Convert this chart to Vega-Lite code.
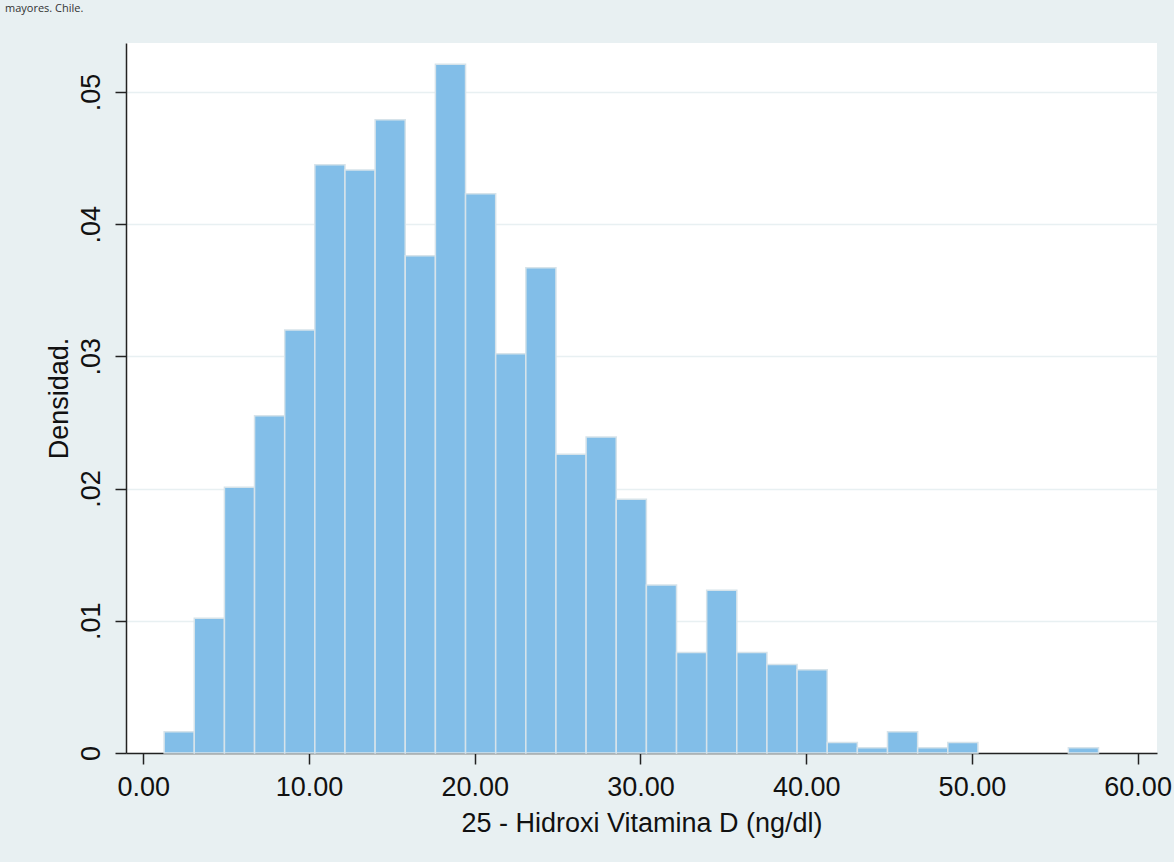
{
  "$schema": "https://vega.github.io/schema/vega-lite/v6.json",
  "width": 1031,
  "height": 710,
  "autosize": {"type": "none"},
  "padding": {"left": 126, "top": 43, "right": 17, "bottom": 109},
  "background": "#E8F0F2",
  "title": {
    "text": "mayores. Chile.",
    "anchor": "start",
    "frame": "group",
    "orient": "top",
    "offset": 20,
    "dx": -121,
    "baseline": "alphabetic",
    "font": "Open Sans",
    "fontSize": 11,
    "fontWeight": "normal",
    "color": "#333333"
  },
  "data": {
    "values": [
      {"bin_start": 1.257, "bin_end": 3.076, "density": 0.0016},
      {"bin_start": 3.076, "bin_end": 4.895, "density": 0.0102},
      {"bin_start": 4.895, "bin_end": 6.713, "density": 0.0201},
      {"bin_start": 6.713, "bin_end": 8.532, "density": 0.0255},
      {"bin_start": 8.532, "bin_end": 10.351, "density": 0.0320},
      {"bin_start": 10.351, "bin_end": 12.170, "density": 0.0445},
      {"bin_start": 12.170, "bin_end": 13.989, "density": 0.0441},
      {"bin_start": 13.989, "bin_end": 15.807, "density": 0.0479},
      {"bin_start": 15.807, "bin_end": 17.626, "density": 0.0376},
      {"bin_start": 17.626, "bin_end": 19.445, "density": 0.0521},
      {"bin_start": 19.445, "bin_end": 21.264, "density": 0.0423},
      {"bin_start": 21.264, "bin_end": 23.083, "density": 0.0302},
      {"bin_start": 23.083, "bin_end": 24.901, "density": 0.0367},
      {"bin_start": 24.901, "bin_end": 26.720, "density": 0.0226},
      {"bin_start": 26.720, "bin_end": 28.539, "density": 0.0239},
      {"bin_start": 28.539, "bin_end": 30.358, "density": 0.0192},
      {"bin_start": 30.358, "bin_end": 32.177, "density": 0.0127},
      {"bin_start": 32.177, "bin_end": 33.995, "density": 0.0076},
      {"bin_start": 33.995, "bin_end": 35.814, "density": 0.0123},
      {"bin_start": 35.814, "bin_end": 37.633, "density": 0.0076},
      {"bin_start": 37.633, "bin_end": 39.452, "density": 0.0067},
      {"bin_start": 39.452, "bin_end": 41.271, "density": 0.0063},
      {"bin_start": 41.271, "bin_end": 43.089, "density": 0.0008},
      {"bin_start": 43.089, "bin_end": 44.908, "density": 0.0004},
      {"bin_start": 44.908, "bin_end": 46.727, "density": 0.0016},
      {"bin_start": 46.727, "bin_end": 48.546, "density": 0.0004},
      {"bin_start": 48.546, "bin_end": 50.365, "density": 0.0008},
      {"bin_start": 55.821, "bin_end": 57.640, "density": 0.0004}
    ]
  },
  "mark": {"type": "bar", "color": "#82BEE8", "stroke": "#D6E3EA", "strokeWidth": 1.5},
  "encoding": {
    "x": {
      "field": "bin_start",
      "type": "quantitative",
      "scale": {"domain": [-1.044, 61.17], "nice": false, "zero": false},
      "axis": {
        "values": [0, 10, 20, 30, 40, 50, 60],
        "format": ".2f",
        "grid": false,
        "labelFont": "Liberation Sans",
        "labelFontSize": 27,
        "labelColor": "#111111",
        "labelPadding": 10,
        "labelFlush": false,
        "labelOverlap": false,
        "domainColor": "#222222",
        "domainWidth": 1.5,
        "tickColor": "#222222",
        "tickWidth": 1.5,
        "tickSize": 11,
        "title": "25 - Hidroxi Vitamina D (ng/dl)",
        "titleFont": "Liberation Sans",
        "titleFontSize": 27,
        "titleFontWeight": "normal",
        "titleColor": "#111111",
        "titlePadding": 10
      }
    },
    "x2": {"field": "bin_end"},
    "y": {
      "field": "density",
      "type": "quantitative",
      "scale": {"domain": [0, 0.0537], "nice": false},
      "axis": {
        "values": [0, 0.01, 0.02, 0.03, 0.04, 0.05],
        "labelExpr": "datum.value == 0 ? '0' : slice(format(datum.value, '.2f'), 1)",
        "labelAngle": 270,
        "labelAlign": "center",
        "labelBaseline": "bottom",
        "labelFont": "Liberation Sans",
        "labelFontSize": 27,
        "labelColor": "#111111",
        "labelPadding": 10,
        "labelFlush": false,
        "labelOverlap": false,
        "grid": true,
        "gridColor": "#E8F0F2",
        "gridWidth": 1.5,
        "domainColor": "#222222",
        "domainWidth": 1.5,
        "tickColor": "#222222",
        "tickWidth": 1.5,
        "tickSize": 11,
        "title": "Densidad.",
        "titleFont": "Liberation Sans",
        "titleFontSize": 27,
        "titleFontWeight": "normal",
        "titleColor": "#111111",
        "titlePadding": 4
      }
    },
    "y2": {"datum": 0}
  },
  "config": {"view": {"fill": "white", "stroke": null}}
}
